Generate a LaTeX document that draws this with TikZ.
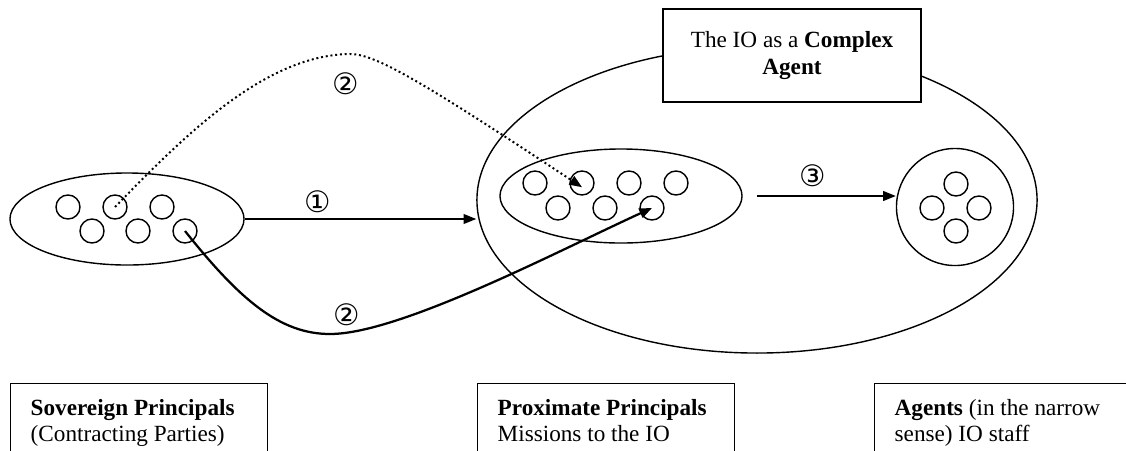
\documentclass[tikz,border=0pt]{standalone}
\usepackage{fontspec}
\setmainfont{Liberation Serif}
\newfontfamily\digitfont{DejaVu Sans}
\usetikzlibrary{shapes.geometric}
\usetikzlibrary{arrows.meta}
\usetikzlibrary{positioning}

\begin{document}
\begin{tikzpicture}[x=0.025cm,y=-0.025cm,line width=1pt,
  font=\fontsize{16.5}{19}\selectfont,
  pebble/.style={circle,draw,minimum size=0.6cm,inner sep=0pt},
  grp/.style={ellipse,draw,inner sep=0pt},
  num/.style={font=\digitfont\fontsize{21}{21}\selectfont,inner sep=0pt},
  tip/.style={-{Triangle[length=9pt,width=7pt]}},
  dotline/.style={line width=1.4pt,dash pattern=on 1.4pt off 2pt},
  infobox/.style={draw,minimum width=6.425cm,minimum height=3cm,anchor=north west,inner sep=0pt},
  infotext/.style={align=left,inner sep=0pt}]
\useasboundingbox (0,0) rectangle (1126,450);
\clip (0,0) rectangle (1126,450);
% the IO and its label box
\node[grp,minimum width=14cm,minimum height=7.65cm] (io) at (757,200) {};
\node[draw,fill=white,minimum width=6.45cm,minimum height=2.325cm,inner sep=0pt] (iobox) at (792,55.5) {};
\node[anchor=north,align=center,inner sep=0pt] (iotext) at (792,31) {The IO as a \textbf{Complex}\\\textbf{Agent}};
% groups
\node[grp,minimum width=5.85cm,minimum height=2.3cm] (sov) at (127,219) {};
\node[grp,minimum width=6.05cm,minimum height=2.35cm] (prox) at (621,196) {};
\node[circle,draw,minimum size=2.925cm,inner sep=0pt] (ag) at (955,207) {};
\foreach \n/\x/\y in {s1/68/207,s2/115/207,s3/162/207,s4/92/231,s5/138/231,s6/185/231,
  p1/535/183,p2/582/183,p3/629/183,p4/676/183,p5/558/208,p6/605/208,p7/652/208,
  a1/956/184,a2/932/208,a3/979/208,a4/956/231}
  \node[pebble] (\n) at (\x,\y) {};
% delegation arrows
\draw[tip] (sov.east) -- (sov.east -| io.west);
\coordinate (a3start) at (757,196);
\draw[tip] (a3start) -- (a3start -| ag.west);
\draw[tip,dotline] (s2.center) .. controls (185,135) and (265,55) .. (350,54)
  .. controls (375,54) and (420,80) .. ([yshift=-3pt]p2.center);
\draw[tip,line width=1.6pt] (s6.center) .. controls (240,300) and (280,334) .. (330,334)
  .. controls (400,334) and (560,250) .. (p7.center);
\node[num] (l1) at (318,202) {①};
\node[num] (l2a) at (346,84) {②};
\node[num] (l2b) at (347,315) {②};
\node[num] (l3) at (813,176) {③};
% boxes at the bottom
\foreach \n/\x in {sovbox/10,proxbox/477,agbox/874}
  \node[infobox] (\n) at (\x,383) {};
\node[infotext,below right=0.38cm and 0.5cm of sovbox.north west] (sovtext) {\textbf{Sovereign Principals}\\(Contracting Parties)};
\node[infotext,below right=0.38cm and 0.5cm of proxbox.north west] (proxtext) {\textbf{Proximate Principals}\\Missions to the IO};
\node[infotext,below right=0.38cm and 0.5cm of agbox.north west] (agtext) {\textbf{Agents} (in the narrow\\sense) IO staff};
\end{tikzpicture}
\end{document}
